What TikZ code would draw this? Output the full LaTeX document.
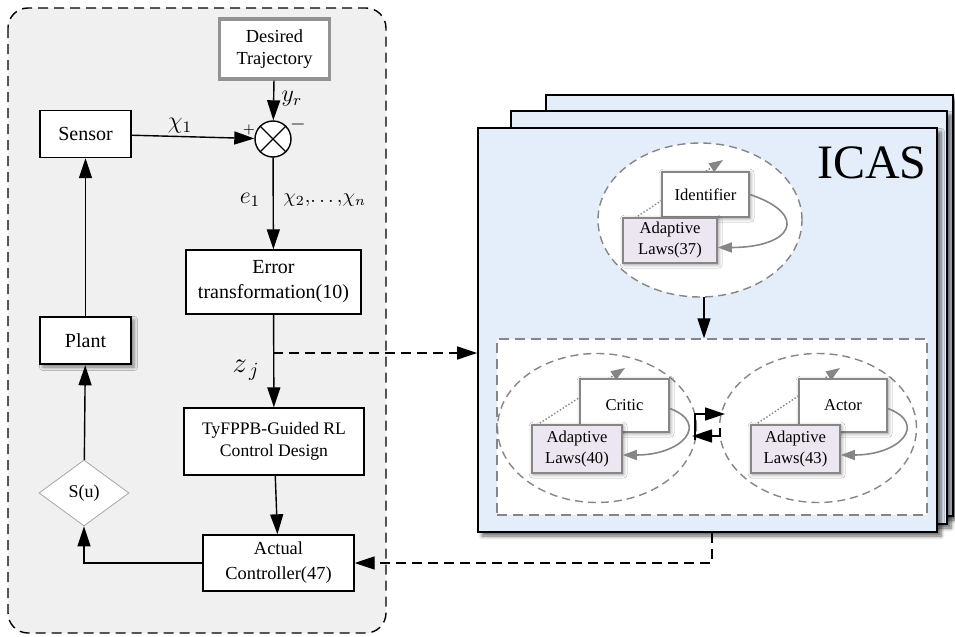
\documentclass[tikz,border=0pt]{standalone}
\usepackage{fontspec}
\setmainfont{Liberation Serif}
\usetikzlibrary{arrows.meta,shapes.geometric,shadows.blur,calc}
\definecolor{leftbg}{RGB}{240,240,240}
\definecolor{icasbg}{RGB}{228,238,250}
\definecolor{lawbg}{RGB}{236,230,240}
\newcommand{\soft}{gray!95}
\tikzset{
  block/.style={draw, fill=white, align=center, inner sep=1pt, font=\fontsize{10}{12.5}\selectfont},
  tip/.style={-{Triangle[length=10pt,width=6.5pt]}},
  greytip/.style={-{Triangle[length=7pt,width=5pt]}},
  sheet/.style={draw, fill=icasbg, line width=0.8pt, blur shadow={shadow xshift=2pt, shadow yshift=-2pt, shadow blur steps=6, shadow opacity=60}},
  unit/.style={ellipse, draw=\soft, fill=white, line width=0.7pt, dash pattern=on 4pt off 2.5pt},
  learnbox/.style={draw=\soft, fill=white, line width=0.8pt, align=center, inner sep=1pt, font=\fontsize{8.3}{10.5}\selectfont,
    blur shadow={shadow xshift=0.6pt, shadow yshift=-0.6pt, shadow blur radius=2pt, shadow opacity=45}},
  lawbox/.style={learnbox, fill=lawbg},
}
\begin{document}
\begin{tikzpicture}[x=0.5pt,y=-0.5pt, line width=0.7pt]
\useasboundingbox (0,0) rectangle (955,637);
% controller side
\draw[fill=leftbg, rounded corners=10pt, line width=0.7pt, dash pattern=on 5pt off 3pt] (8,8) rectangle (386,633);
\node[block, draw=gray!85, line width=1.6pt, minimum width=55pt, minimum height=30pt, font=\fontsize{9.2}{10.8}\selectfont] (des) at (274.5,49) {Desired\\Trajectory};
\node[draw, circle, fill=white, minimum size=18pt, inner sep=0pt] (sum) at (273,139) {};
\draw (sum.north west) -- (sum.south east) (sum.north east) -- (sum.south west);
\node[block, minimum width=45.5pt, minimum height=23.5pt] (sensor) at (85.5,134) {Sensor};
\node[block, minimum width=87.5pt, minimum height=32pt] (err) at (273.5,282) {Error\\transformation(10)};
\node[block, line width=1.3pt, minimum width=45.5pt, minimum height=23.5pt,
  blur shadow={shadow xshift=1.5pt, shadow yshift=-1.5pt, shadow opacity=50}] (plant) at (85.5,340.5) {Plant};
\node[block, minimum width=90pt, minimum height=33.5pt, font=\fontsize{8.8}{10.8}\selectfont] (tyf) at (274,441.5) {TyFPPB-Guided RL\\Control Design};
\node[diamond, draw=gray!70, line width=0.4pt, fill=white, minimum width=45pt, minimum height=33pt, inner sep=0pt, font=\fontsize{9}{10}\selectfont] (su) at (84,493) {S(u)};
\node[block, minimum width=75.5pt, minimum height=28pt, font=\fontsize{9.2}{12.5}\selectfont] (act) at (278.5,563) {Actual\\Controller(47)};
\coordinate (br) at (273,353);
\draw[tip] (des) -- (sum);
\draw[tip] (sensor) -- (sum);
\draw[tip] (sum) -- (err);
\draw[tip] (err) -- (tyf);
\draw[tip] (tyf) -- (act);
\draw[tip] (act.west) -| (su.south);
\draw[tip] (su) -- (plant);
\draw[tip] (plant) -- (sensor);
\node[font=\large] at (180,126) {$\chi_1$};
\node[font=\scriptsize] at (249,130) {$+$};
\node[font=\bfseries] at (298,124) {$-$};
\node[font=\large] at (292,99) {$y_r$};
\node[font=\large] at (250,200) {$e_1$};
\node[anchor=west] at (276,200) {$\chi_2,\!\ldots,\!\chi_n$};
\node[font=\Large] at (246,370) {$z_{\,j}$};
% ICAS stack
\node[sheet, minimum width=203.5pt, minimum height=210.5pt] (s3) at (749.5,305.5) {};
\node[sheet, minimum width=218pt, minimum height=206.5pt] (s2) at (729,317.5) {};
\node[sheet, minimum width=229.5pt, minimum height=202pt] (s1) at (707.5,330) {};
\node[font=\fontsize{24}{24}\selectfont] (icas) at (872,163) {ICAS};
% identifier
\node[unit, minimum width=102pt, minimum height=77pt] (idell) at (700,220) {};
\draw[\soft, densely dotted, greytip] (635,218) -- (723,160);
\node[learnbox, minimum width=43.5pt, minimum height=22.5pt] (idbox) at (705.5,194.5) {Identifier};
\node[lawbox, minimum width=47pt, minimum height=22.5pt] (idlaw) at (670,240.5) {Adaptive\\Laws(37)};
\draw[\soft, line width=0.8pt, greytip] (idbox.east) .. controls +(60,20) and +(75,0) .. ($(idlaw.east)+(0,7)$);
\node[draw=\soft, fill=white, line width=0.7pt, dash pattern=on 5pt off 3pt, minimum width=215pt, minimum height=88pt] (inner) at (712,427) {};
\coordinate (idout) at (704,297);
\draw[tip] (idout) -- (idout |- inner.north);
% critic
\node[unit, minimum width=99.5pt, minimum height=74.5pt] (crell) at (597,428) {};
\draw[\soft, densely dotted, greytip] (537,425) -- (625,368);
\node[learnbox, minimum width=44.5pt, minimum height=26.5pt] (crbox) at (624.5,405.5) {Critic};
\node[lawbox, minimum width=45pt, minimum height=24pt] (crlaw) at (577,449) {Adaptive\\Laws(40)};
\draw[\soft, line width=0.8pt, greytip] ($(crbox.east)+(0,3)$) .. controls +(40,15) and +(60,0) .. ($(crlaw.east)+(0,6)$);
% actor
\node[unit, minimum width=98.5pt, minimum height=74.5pt] (acell) at (818,428) {};
\draw[\soft, densely dotted, greytip] (755,425) -- (840,368);
\node[learnbox, minimum width=44pt, minimum height=26.5pt] (acbox) at (843,405.5) {Actor};
\node[lawbox, minimum width=44.5pt, minimum height=24pt] (aclaw) at (795.5,449) {Adaptive\\Laws(43)};
\draw[\soft, line width=0.8pt, greytip] ($(acbox.east)+(0,3)$) .. controls +(40,15) and +(60,0) .. ($(aclaw.east)+(0,6)$);
% critic <-> actor
\draw[tip] (695,440) |- (725,414);
\draw[tip] (720,428) |- (692,436);
% links between the two sides
\draw[tip, dash pattern=on 5pt off 3pt] (br) -- (br -| s1.west);
\draw[tip, dash pattern=on 5pt off 3pt] ($(s1.south)+(4.5,0)$) |- (act.east);
\end{tikzpicture}
\end{document}
